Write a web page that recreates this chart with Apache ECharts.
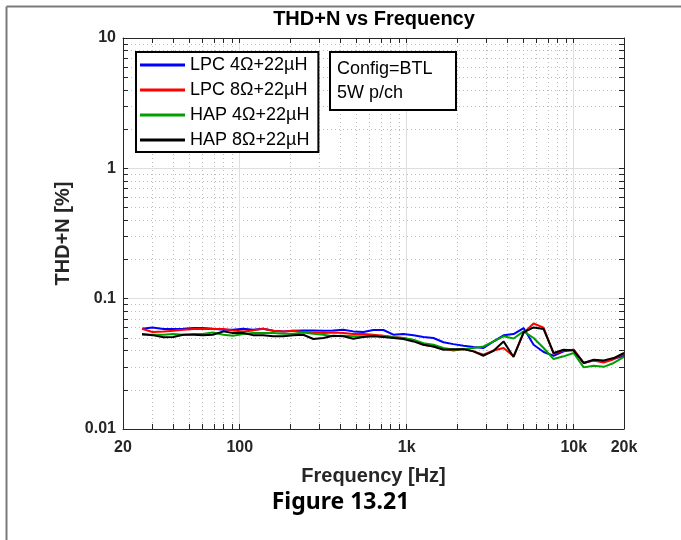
<!DOCTYPE html>
<html>
<head>
<meta charset="utf-8">
<script src="https://cdn.jsdelivr.net/npm/echarts@6/dist/echarts.min.js"></script>
<style>
  html, body { margin: 0; padding: 0; background: #fff; }
  #chart { width: 681px; height: 540px; }
</style>
</head>
<body>
<div id="chart"></div>
<script>
// Frequency points [Hz]
const freqs = [26, 30, 35, 40, 46, 53, 60, 69, 80, 91, 105, 120, 138, 159, 182, 209, 240, 276, 317, 363,
  417, 479, 550, 631, 725, 832, 955, 1097, 1259, 1445, 1659, 1905, 2187, 2511, 2883, 3311, 3800, 4362,
  5008, 5750, 6601, 7578, 8700, 9988, 11467, 13165, 15114, 17352, 20000];

// THD+N [%]
const lpc4 = [0.0588, 0.0602, 0.0585, 0.0585, 0.0588, 0.0595, 0.0595, 0.0588, 0.0578, 0.0578, 0.0588, 0.0578,
  0.0588, 0.0568, 0.0561, 0.0568, 0.0571, 0.0571, 0.0568, 0.0571, 0.0578, 0.0561, 0.0555, 0.0575, 0.0575,
  0.0529, 0.0535, 0.0523, 0.0508, 0.0499, 0.0463, 0.0448, 0.0435, 0.0425, 0.0418, 0.0470, 0.0523, 0.0535,
  0.0595, 0.0443, 0.0390, 0.0365, 0.0394, 0.0406, 0.0321, 0.0336, 0.0330, 0.0346, 0.0365];
const lpc8 = [0.0588, 0.0555, 0.0561, 0.0568, 0.0578, 0.0585, 0.0588, 0.0585, 0.0585, 0.0571, 0.0561, 0.0571,
  0.0588, 0.0568, 0.0561, 0.0568, 0.0555, 0.0551, 0.0545, 0.0551, 0.0545, 0.0535, 0.0535, 0.0529, 0.0520,
  0.0508, 0.0499, 0.0478, 0.0443, 0.0430, 0.0413, 0.0400, 0.0410, 0.0394, 0.0371, 0.0400, 0.0418, 0.0361,
  0.0545, 0.0645, 0.0600, 0.0378, 0.0400, 0.0406, 0.0321, 0.0336, 0.0324, 0.0343, 0.0378];
const hap4 = [0.0529, 0.0529, 0.0529, 0.0535, 0.0529, 0.0535, 0.0535, 0.0551, 0.0529, 0.0520, 0.0535, 0.0545,
  0.0545, 0.0545, 0.0538, 0.0538, 0.0551, 0.0538, 0.0529, 0.0514, 0.0520, 0.0514, 0.0514, 0.0520, 0.0514,
  0.0505, 0.0499, 0.0484, 0.0456, 0.0443, 0.0418, 0.0406, 0.0410, 0.0418, 0.0430, 0.0470, 0.0514, 0.0495,
  0.0561, 0.0499, 0.0418, 0.0344, 0.0361, 0.0383, 0.0297, 0.0306, 0.0300, 0.0321, 0.0357];
const hap8 = [0.0535, 0.0525, 0.0505, 0.0508, 0.0529, 0.0529, 0.0525, 0.0529, 0.0561, 0.0545, 0.0545, 0.0525,
  0.0525, 0.0514, 0.0514, 0.0525, 0.0529, 0.0490, 0.0499, 0.0520, 0.0514, 0.0493, 0.0508, 0.0514, 0.0508,
  0.0499, 0.0490, 0.0470, 0.0443, 0.0430, 0.0406, 0.0410, 0.0410, 0.0394, 0.0365, 0.0398, 0.0470, 0.0357,
  0.0551, 0.0602, 0.0585, 0.0383, 0.0406, 0.0400, 0.0321, 0.0340, 0.0336, 0.0350, 0.0383];

const seriesNames = ['LPC 4\u03A9+22\u00B5H', 'LPC 8\u03A9+22\u00B5H', 'HAP 4\u03A9+22\u00B5H', 'HAP 8\u03A9+22\u00B5H'];
const seriesColors = ['#0000ff', '#ff0000', '#00a000', '#000000'];
const seriesValues = [lpc4, lpc8, hap4, hap8];

// tick positions
const xMinorTicks = [30, 40, 50, 60, 70, 80, 90, 200, 300, 400, 500, 600, 700, 800, 900,
  2000, 3000, 4000, 5000, 6000, 7000, 8000, 9000];
const xAllTicks = [20, 100, 1000, 10000, 20000].concat(xMinorTicks);
const yMinorTicks = [0.02, 0.03, 0.04, 0.05, 0.06, 0.07, 0.08, 0.09, 0.2, 0.3, 0.4, 0.5, 0.6, 0.7, 0.8, 0.9,
  2, 3, 4, 5, 6, 7, 8, 9];
const yAllTicks = [0.01, 0.1, 1, 10].concat(yMinorTicks);

const FONT = '"Liberation Sans", Arial, sans-serif';
const AXIS_COLOR = '#262626';

const chart = echarts.init(document.getElementById('chart'), null, { renderer: 'canvas' });

const baseX = { type: 'log', logBase: 10, min: 20, max: 20000, gridIndex: 0 };
const baseY = { type: 'log', logBase: 10, min: 0.01, max: 10, gridIndex: 0 };
const hidden = { axisLabel: { show: false }, axisLine: { show: false }, splitLine: { show: false } };

const option = {
  animation: false,
  backgroundColor: '#fff',
  title: [
    {
      text: 'THD+N vs Frequency',
      left: 374, top: 9, textAlign: 'center', padding: 0,
      textStyle: { fontFamily: FONT, fontSize: 20, fontWeight: 'bold', color: '#000' }
    },
    {
      text: 'Config=BTL\n5W p/ch',
      left: 330, top: 52, padding: [5, 24, 5, 7],
      borderColor: '#000', borderWidth: 2,
      backgroundColor: '#fff',
      textStyle: { fontFamily: FONT, fontSize: 18, fontWeight: 'normal', lineHeight: 24, color: '#000' }
    },
    {
      text: 'Figure 13.21',
      left: 'center', top: 491, padding: 0,
      textStyle: { fontFamily: '"Noto Sans", sans-serif', fontSize: 23, fontWeight: 'bold', color: '#000' }
    }
  ],
  graphic: [
    { type: 'line', shape: { x1: 6.5, y1: 6.5, x2: 681, y2: 6.5 }, style: { stroke: '#7a7a7a', lineWidth: 2 } },
    { type: 'line', shape: { x1: 6.5, y1: 6.5, x2: 6.5, y2: 540 }, style: { stroke: '#7a7a7a', lineWidth: 2 } }
  ],
  legend: {
    orient: 'vertical',
    left: 136, top: 52,
    padding: [3, 9, 2, 4],
    itemGap: 5,
    icon: 'rect',
    itemWidth: 45,
    itemHeight: 3,
    borderColor: '#000', borderWidth: 2,
    backgroundColor: '#fff',
    data: seriesNames,
    textStyle: { fontFamily: FONT, fontSize: 18, lineHeight: 20, color: '#000' }
  },
  grid: { left: 123, top: 38, width: 501, height: 391, containLabel: false },
  xAxis: [
    Object.assign({}, baseX, {
      position: 'bottom',
      name: 'Frequency [Hz]', nameLocation: 'middle', nameGap: 37,
      nameTextStyle: { fontFamily: FONT, fontSize: 20, fontWeight: 'bold', color: AXIS_COLOR },
      axisLine: { show: true, lineStyle: { color: AXIS_COLOR, width: 1 } },
      axisTick: { show: true, inside: true, length: 5, lineStyle: { color: AXIS_COLOR } },
      axisLabel: {
        margin: 11, showMinLabel: true, showMaxLabel: true,
        fontFamily: FONT, fontSize: 16, fontWeight: 'bold', color: AXIS_COLOR,
        formatter: v => (v >= 1000 ? Math.round(v / 1000) + 'k' : String(Math.round(v)))
      },
      splitLine: { show: true, lineStyle: { color: '#dedede', width: 1 } }
    }),
    Object.assign({}, baseX, hidden, {
      position: 'bottom',
      axisTick: { show: true, inside: true, length: 5, customValues: xMinorTicks, lineStyle: { color: AXIS_COLOR } },
      splitLine: { show: true, lineStyle: { color: '#bdbdbd', width: 1, type: [1, 3] } }
    }),
    Object.assign({}, baseX, hidden, {
      position: 'top',
      axisLine: { show: true, onZero: false, lineStyle: { color: AXIS_COLOR, width: 1 } },
      axisTick: { show: true, inside: true, length: 5, customValues: xAllTicks, lineStyle: { color: AXIS_COLOR } }
    })
  ],
  yAxis: [
    Object.assign({}, baseY, {
      position: 'left',
      name: 'THD+N [%]', nameLocation: 'middle', nameGap: 46,
      nameTextStyle: { fontFamily: FONT, fontSize: 20, fontWeight: 'bold', color: AXIS_COLOR },
      axisLine: { show: true, lineStyle: { color: AXIS_COLOR, width: 1 } },
      axisTick: { show: true, inside: true, length: 5, lineStyle: { color: AXIS_COLOR } },
      axisLabel: {
        margin: 7, showMinLabel: true, showMaxLabel: true,
        fontFamily: FONT, fontSize: 16, fontWeight: 'bold', color: AXIS_COLOR,
        formatter: v => String(+v.toPrecision(2))
      },
      splitLine: { show: true, lineStyle: { color: '#dedede', width: 1 } }
    }),
    Object.assign({}, baseY, hidden, {
      position: 'left',
      axisTick: { show: true, inside: true, length: 5, customValues: yMinorTicks, lineStyle: { color: AXIS_COLOR } },
      splitLine: { show: true, lineStyle: { color: '#bdbdbd', width: 1, type: [1, 3] } }
    }),
    Object.assign({}, baseY, hidden, {
      position: 'right',
      axisLine: { show: true, onZero: false, lineStyle: { color: AXIS_COLOR, width: 1 } },
      axisTick: { show: true, inside: true, length: 5, customValues: yAllTicks, lineStyle: { color: AXIS_COLOR } }
    })
  ],
  series: seriesNames.map((name, i) => ({
    name: name,
    type: 'line',
    xAxisIndex: 0,
    yAxisIndex: 0,
    symbol: 'none',
    lineStyle: { color: seriesColors[i], width: 2 },
    itemStyle: { color: seriesColors[i] },
    data: freqs.map((f, j) => [f, seriesValues[i][j]]),
    z: 3 + i
  }))
};

chart.setOption(option);
</script>
</body>
</html>
